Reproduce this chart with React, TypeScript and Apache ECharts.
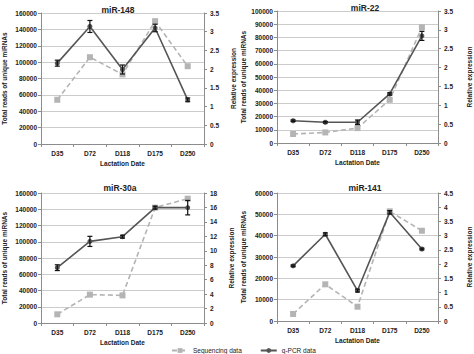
import React, { useEffect, useRef } from "react";
import * as echarts from "echarts";

const categories = ["D35", "D72", "D118", "D175", "D250"];

const titles = ["miR-148", "miR-22", "miR-30a", "miR-141"];

const seq148 = [54000, 106000, 85000, 150000, 95000];
const q148 = [2.16, 3.14, 1.99, 3.1, 1.18];
const err148 = [0.08, 0.16, 0.12, 0.1, 0.05];

const seq22 = [6800, 8000, 11300, 32700, 87600];
const q22 = [0.59, 0.55, 0.55, 1.3, 2.84];
const err22 = [0.02, 0.02, 0.06, 0.03, 0.12];

const seq30a = [10700, 34900, 34000, 142000, 153000];
const q30a = [7.66, 11.3, 11.95, 15.97, 15.97];
const err30a = [0.4, 0.7, 0.2, 0.2, 1.0];

const seq141 = [3300, 17200, 6700, 51400, 42300];
const q141 = [1.94, 3.05, 1.07, 3.82, 2.53];
const err141 = [0.03, 0.05, 0.05, 0.06, 0.03];

const leftMax = [160000, 100000, 160000, 60000];
const leftStep = [20000, 10000, 20000, 10000];
const rightMax = [3.5, 3.5, 18, 4.5];
const rightStep = [0.5, 0.5, 2, 0.5];

const seqAll = [seq148, seq22, seq30a, seq141];
const qAll = [q148, q22, q30a, q141];
const errAll = [err148, err22, err30a, err141];

const FONT = "Liberation Sans";
const TXT = "#222";

export default function App() {
  const ref = useRef<HTMLDivElement>(null);
  useEffect(() => {
    const chart = echarts.init(ref.current!, null, { renderer: "svg" });
    const grids = [
      { left: 37, top: 13, width: 167, height: 131 },
      { left: 277, top: 11, width: 167, height: 132 },
      { left: 37, top: 193, width: 167, height: 130 },
      { left: 277, top: 193, width: 167, height: 128 },
    ];
    const leftGap = [33, 28, 33, 30];
    const rightGap = [26, 28, 24, 28];
    const titleCenters = [
      [113, 0],
      [360, -2],
      [115, 178],
      [360, 178],
    ];
    const fmt = (v: number) => String(v);
    const xAxis: any[] = [];
    const yAxis: any[] = [];
    const series: any[] = [];
    grids.forEach((g, i) => {
      xAxis.push({
        type: "category",
        gridIndex: i,
        data: categories,
        boundaryGap: true,
        name: "Lactation Date",
        nameLocation: "middle",
        nameGap: 16,
        nameTextStyle: { fontFamily: FONT, fontSize: 6.5, fontWeight: "bold", color: TXT },
        axisLine: { lineStyle: { color: "#8c8c8c", width: 1 } },
        axisTick: { show: true, length: 3, lineStyle: { color: "#8c8c8c" } },
        axisLabel: { fontFamily: FONT, fontSize: 6.5, fontWeight: "bold", color: TXT, margin: 6 },
      });
      yAxis.push({
        type: "value",
        gridIndex: i,
        position: "left",
        min: 0,
        max: leftMax[i],
        interval: leftStep[i],
        name: "Total reads of unique miRNAs",
        nameLocation: "middle",
        nameRotate: 90,
        nameGap: leftGap[i],
        nameTextStyle: { fontFamily: FONT, fontSize: 6.5, fontWeight: "bold", color: TXT },
        axisLine: { show: true, lineStyle: { color: "#8c8c8c", width: 1 } },
        axisTick: { show: true, length: 3, lineStyle: { color: "#8c8c8c" } },
        axisLabel: { fontFamily: FONT, fontSize: 6.5, fontWeight: "bold", color: TXT, margin: 4, formatter: fmt },
        splitLine: { show: true, lineStyle: { color: "#cccccc", width: 1 } },
      });
      yAxis.push({
        type: "value",
        gridIndex: i,
        position: "right",
        min: 0,
        max: rightMax[i],
        interval: rightStep[i],
        name: "Relative expression",
        nameLocation: "middle",
        nameRotate: 90,
        nameGap: rightGap[i],
        nameTextStyle: { fontFamily: FONT, fontSize: 6.5, fontWeight: "bold", color: TXT },
        axisLine: { show: true, lineStyle: { color: "#8c8c8c", width: 1 } },
        axisTick: { show: true, length: 3, lineStyle: { color: "#8c8c8c" } },
        axisLabel: { fontFamily: FONT, fontSize: 6.5, fontWeight: "bold", color: TXT, margin: 6, formatter: fmt },
        splitLine: { show: false },
      });
      series.push({
        type: "line",
        name: "Sequencing data",
        xAxisIndex: i,
        yAxisIndex: 2 * i,
        data: seqAll[i],
        symbol: "rect",
        symbolSize: 6,
        itemStyle: { color: "#b4b4b4" },
        lineStyle: { color: "#b4b4b4", width: 1.6, type: [5, 3] },
        z: 2,
      });
      series.push({
        type: "line",
        name: "q-PCR data",
        xAxisIndex: i,
        yAxisIndex: 2 * i + 1,
        data: qAll[i],
        symbol: "circle",
        symbolSize: 5,
        itemStyle: { color: "#555555" },
        lineStyle: { color: "#555555", width: 1.6 },
        z: 3,
      });
      series.push({
        type: "custom",
        name: "err" + i,
        xAxisIndex: i,
        yAxisIndex: 2 * i + 1,
        data: qAll[i].map((v, k) => [k, v, errAll[i][k]]),
        encode: { x: 0, y: 1 },
        z: 4,
        renderItem: (params: any, api: any) => {
          const x = api.value(0);
          const v = api.value(1);
          const e = api.value(2);
          const top = api.coord([x, v + e]);
          const bot = api.coord([x, v - e]);
          const st = { stroke: "#111", lineWidth: 1.2 };
          return {
            type: "group",
            children: [
              { type: "line", shape: { x1: top[0], y1: top[1], x2: bot[0], y2: bot[1] }, style: st },
              { type: "line", shape: { x1: top[0] - 2.5, y1: top[1], x2: top[0] + 2.5, y2: top[1] }, style: st },
              { type: "line", shape: { x1: bot[0] - 2.5, y1: bot[1], x2: bot[0] + 2.5, y2: bot[1] }, style: st },
            ],
          };
        },
      });
    });
    const title = titles.map((t, i) => ({
      text: t,
      left: titleCenters[i][0],
      top: titleCenters[i][1],
      textAlign: "center",
      textStyle: { fontFamily: FONT, fontSize: 8.5, fontWeight: "bold", color: TXT },
    }));
    chart.setOption({
      animation: false,
      backgroundColor: "#ffffff",
      title,
      grid: grids,
      xAxis,
      yAxis,
      series,
      legend: {
        data: ["Sequencing data", "q-PCR data"],
        left: 166,
        top: 342,
        itemWidth: 16,
        itemHeight: 6,
        itemGap: 18,
        textStyle: { fontFamily: FONT, fontSize: 6.5, color: TXT },
      },
    });
    return () => chart.dispose();
  }, []);
  return (
    <div
      ref={ref}
      style={{ position: "fixed", left: 0, top: 0, width: 474, height: 354 }}
    />
  );
}
